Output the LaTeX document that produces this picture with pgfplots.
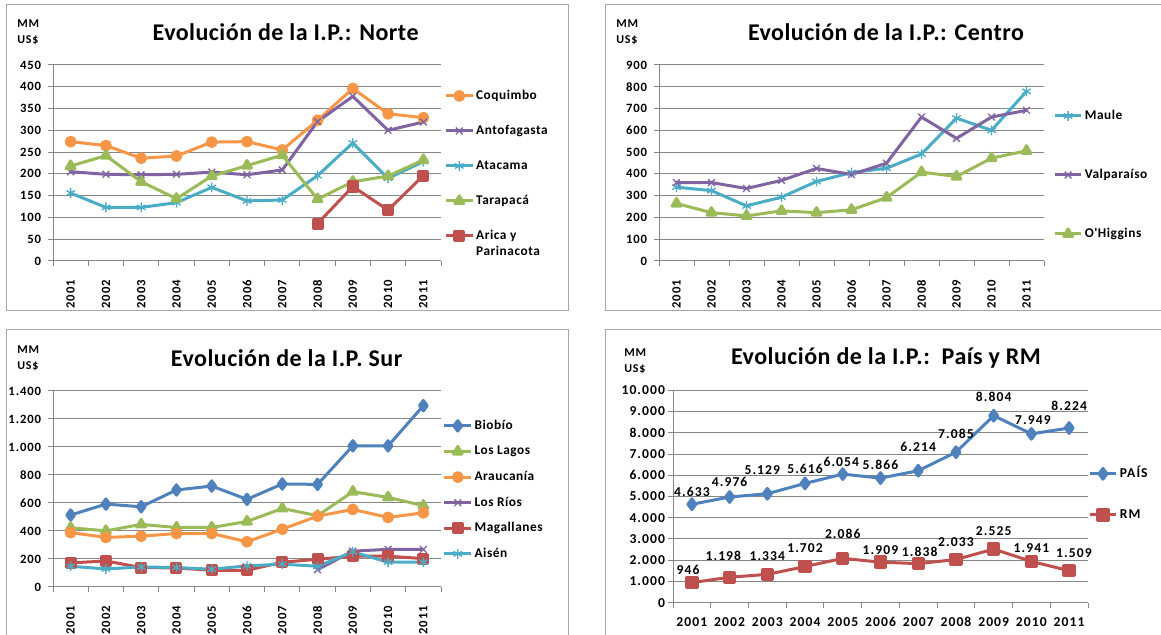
\documentclass[border=0pt]{standalone}
\usepackage{pgfplots}
\pgfplotsset{compat=1.18}
\usepackage{fontspec}
\setmainfont{Carlito}
\newfontfamily\lsS[LetterSpace=7]{Carlito}
\newfontfamily\lsL[LetterSpace=4]{Carlito}
\newfontfamily\lsW[LetterSpace=8]{Carlito}
\newfontfamily\lsT[LetterSpace=2]{Carlito}
\definecolor{xblue}{HTML}{4F81BD}
\definecolor{xred}{HTML}{C0504D}
\definecolor{xgreen}{HTML}{9BBB59}
\definecolor{xpurple}{HTML}{8064A2}
\definecolor{xaqua}{HTML}{4BACC6}
\definecolor{xorange}{HTML}{F79646}
\definecolor{gridc}{HTML}{868686}
\definecolor{framec}{HTML}{A6A6A6}
\newcommand{\tfont}{\lsT\bfseries\fontsize{18}{21}\selectfont}
\newcommand{\mmfont}{\lsS\bfseries\fontsize{9}{10}\selectfont}
\newcommand{\tkfont}{\lsS\bfseries\fontsize{9.5}{11}\selectfont}
\newcommand{\lgfont}{\lsL\bfseries\fontsize{10}{12}\selectfont}
\newcommand{\wfont}{\lsW\bfseries\fontsize{10.2}{12}\selectfont}
\pgfkeys{/pgf/number format/.cd,1000 sep={.},assume math mode=true}
\pgfplotsset{
  panel/.style={
    scale only axis, anchor=south west,
    xmin=-0.5, xmax=10.5, ymin=0,
    xtick={0,...,10},
    xticklabels={2001,2002,2003,2004,2005,2006,2007,2008,2009,2010,2011},
    minor xtick={-0.5,0.5,...,10.5},
    axis x line*=bottom, axis y line*=left,
    axis line style={gridc, line width=0.75pt, -},
    ymajorgrids, grid style={gridc, line width=0.75pt},
    major tick length=3.75pt, minor tick length=3.75pt,
    tick align=outside,
    major x tick style={draw=none},
    minor x tick style={gridc, line width=0.75pt},
    ytick style={gridc, line width=0.75pt},
    tick label style={font=\tkfont},
    yticklabel style={inner sep=0pt, xshift=-5pt},
    scaled y ticks=false,
    legend cell align=left,
    legend style={draw=none, fill=none, font=\lgfont,
      nodes={inner sep=0.5pt, text height=7pt, text depth=2pt}, column sep=1pt},
    legend image code/.code={\draw[mark repeat=2,mark phase=2,##1] plot coordinates {(0pt,0pt) (10pt,0pt) (20pt,0pt)};},
    every axis plot/.append style={line width=2.25pt, line join=round},
  },
  rotlab/.style={xticklabel style={rotate=90, anchor=east, inner sep=0pt, xshift=-10.5pt}},
  mcirc/.style={xorange, mark=*, mark size=3.3pt, mark options={solid}},
  mx/.style={xpurple, mark=x, mark size=3.6pt, mark options={solid, line width=1pt}},
  mast/.style={xaqua, mark=asterisk, mark size=3.7pt, mark options={solid, line width=1pt}},
  mtri/.style={xgreen, mark=triangle*, mark size=3.8pt, mark options={solid}},
  msq/.style={xred, mark=square*, mark size=3.4pt, mark options={solid}},
  mdia/.style={xblue, mark=diamond*, mark size=3.9pt, mark options={solid}},
  labplot/.style={draw=none, mark=none, forget plot, nodes near coords,
    point meta=explicit symbolic,
    every node near coord/.style={anchor=center, inner sep=0pt, font=\wfont, text=black}},
}
\begin{document}
\begin{tikzpicture}
\useasboundingbox (0,0) rectangle (870.75pt,476.25pt);
% frames
\draw[framec, line width=0.75pt] (4.5pt,472.5pt) rectangle (426pt,243pt);
\draw[framec, line width=0.75pt] (880pt,472.5pt) -- (453.75pt,472.5pt) -- (453.75pt,243pt) -- (880pt,243pt);
\draw[framec, line width=0.75pt] (4.5pt,-5pt) -- (4.5pt,228.75pt) -- (426pt,228.75pt) -- (426pt,-5pt);
\draw[framec, line width=0.75pt] (453.75pt,-5pt) -- (453.75pt,228.75pt) -- (880pt,228.75pt);
% titles
\node[font=\tfont] at (214.2pt,452.25pt) {Evolución de la I.P.: Norte};
\node[font=\tfont] at (664.5pt,452.25pt) {Evolución de la I.P.: Centro};
\node[font=\tfont] at (214.95pt,207.75pt) {Evolución de la I.P. Sur};
\node[font=\tfont] at (664.5pt,207.75pt) {Evolución de la I.P.:\ \ País y RM};
% MM US$
\node[font=\mmfont, anchor=west, inner sep=0pt] at (12.75pt,458.25pt) {MM};
\node[font=\mmfont, anchor=west, inner sep=0pt] at (12.75pt,446.25pt) {US\$};
\node[font=\mmfont, anchor=west, inner sep=0pt] at (462pt,458.25pt) {MM};
\node[font=\mmfont, anchor=west, inner sep=0pt] at (462pt,446.25pt) {US\$};
\node[font=\mmfont, anchor=west, inner sep=0pt] at (12.75pt,213.75pt) {MM};
\node[font=\mmfont, anchor=west, inner sep=0pt] at (12.75pt,201.75pt) {US\$};
\node[font=\mmfont, anchor=west, inner sep=0pt] at (468pt,211.5pt) {MM};
\node[font=\mmfont, anchor=west, inner sep=0pt] at (468pt,199.5pt) {US\$};

% ---------- Norte ----------
\begin{axis}[panel, rotlab, at={(39.75pt,280.5pt)}, width=291pt, height=147pt,
  ymax=450, ytick={0,50,...,450},
  legend style={at={(0.998,0.891)}, anchor=north west, row sep=16.25pt}]
\addplot[mcirc] coordinates {(0,274)(1,265)(2,236)(3,241)(4,273)(5,274)(6,255)(7,323)(8,396)(9,338)(10,329)};
\addlegendentry{Coquimbo}
\addplot[mx] coordinates {(0,205)(1,199)(2,198)(3,199)(4,204)(5,198)(6,209)(7,320)(8,378)(9,300)(10,319)};
\addlegendentry{Antofagasta}
\addplot[mast] coordinates {(0,156)(1,123)(2,123)(3,134)(4,169)(5,138)(6,140)(7,196)(8,271)(9,190)(10,228)};
\addlegendentry{Atacama}
\addplot[mtri] coordinates {(0,218)(1,242)(2,182)(3,143)(4,195)(5,219)(6,243)(7,142)(8,182)(9,195)(10,232)};
\addlegendentry{Tarapacá}
\addplot[msq] coordinates {(7,86)(8,171)(9,117)(10,196)};
\addlegendentry{\begin{tabular}[t]{@{}l@{}}Arica y\\Parinacota\end{tabular}}
\end{axis}

% ---------- Centro ----------
\begin{axis}[panel, rotlab, at={(494.25pt,280.5pt)}, width=288.75pt, height=147pt,
  ymax=900, ytick={0,100,...,900},
  legend style={at={(1.013,0.789)}, anchor=north west, row sep=34.25pt}]
\addplot[mast] coordinates {(0,339)(1,323)(2,253)(3,293)(4,365)(5,406)(6,426)(7,491)(8,656)(9,600)(10,779)};
\addlegendentry{Maule}
\addplot[mx] coordinates {(0,360)(1,360)(2,333)(3,370)(4,425)(5,397)(6,449)(7,661)(8,563)(9,661)(10,692)};
\addlegendentry{Valparaíso}
\addplot[mtri] coordinates {(0,264)(1,222)(2,207)(3,230)(4,222)(5,235)(6,291)(7,408)(8,388)(9,472)(10,506)};
\addlegendentry{O'Higgins}
\end{axis}

% ---------- Sur ----------
\begin{axis}[panel, rotlab, at={(39.75pt,36pt)}, width=291pt, height=147pt,
  ymax=1400, ytick={0,200,...,1400},
  legend style={at={(0.994,0.871)}, anchor=north west, row sep=9.2pt}]
\addplot[mdia] coordinates {(0,514)(1,592)(2,573)(3,693)(4,721)(5,626)(6,736)(7,733)(8,1008)(9,1008)(10,1295)};
\addlegendentry{Biobío}
\addplot[mtri] coordinates {(0,423)(1,401)(2,447)(3,425)(4,425)(5,468)(6,561)(7,509)(8,681)(9,640)(10,581)};
\addlegendentry{Los Lagos}
\addplot[mcirc] coordinates {(0,389)(1,354)(2,363)(3,382)(4,382)(5,323)(6,413)(7,506)(8,554)(9,497)(10,530)};
\addlegendentry{Araucanía}
\addplot[mx] coordinates {(7,124)(8,256)(9,269)(10,269)};
\addlegendentry{Los Ríos}
\addplot[msq] coordinates {(0,172)(1,186)(2,139)(3,136)(4,119)(5,119)(6,177)(7,198)(8,220)(9,220)(10,203)};
\addlegendentry{Magallanes}
\addplot[mast] coordinates {(0,148)(1,129)(2,143)(3,139)(4,127)(5,151)(6,163)(7,148)(8,251)(9,177)(10,177)};
\addlegendentry{Aisén}
\end{axis}

% ---------- País y RM ----------
\begin{axis}[panel, at={(504.75pt,24.225pt)}, width=311.25pt, height=159.3pt,
  ymax=10000, ytick={0,1000,...,10000}, clip=false,
  tick label style={font=\wfont},
  yticklabel style={xshift=3pt},
  xticklabel style={anchor=north, inner sep=0pt, yshift=-7pt},
  legend style={at={(0.99,0.652)}, anchor=north west, row sep=20.75pt, font=\wfont}]
\addplot[mdia, mark size=4pt] coordinates {(0,4633)(1,4976)(2,5129)(3,5616)(4,6054)(5,5866)(6,6214)(7,7085)(8,8804)(9,7949)(10,8224)};
\addlegendentry{PAÍS}
\addplot[msq, mark size=3.9pt] coordinates {(0,946)(1,1198)(2,1334)(3,1702)(4,2086)(5,1909)(6,1838)(7,2033)(8,2525)(9,1941)(10,1509)};
\addlegendentry{RM}
% data labels (positions of the label centres)
\addplot[labplot] table[x=x, y=y, meta=lab] {
x y lab
0 5229 4.633
1 5682 4.976
1.867 6246 5.129
3 6288 5.616
3.961 6631 6.054
5 6513 5.866
6 7344 6.214
7 7932 7.085
8 9714 8.804
9.039 8577 7.949
10 9272 8.224
};
\addplot[labplot] table[x=x, y=y, meta=lab] {
x y lab
-0.099 1542 946
0.834 2221 1.198
2 2194 1.334
3 2562 1.702
4 3228 2.086
5 2486 1.909
6.039 2415 1.838
7 2868 2.033
8 3385 2.525
9 2569 1.941
10.127 2344 1.509
};
\end{axis}
\end{tikzpicture}
\end{document}
